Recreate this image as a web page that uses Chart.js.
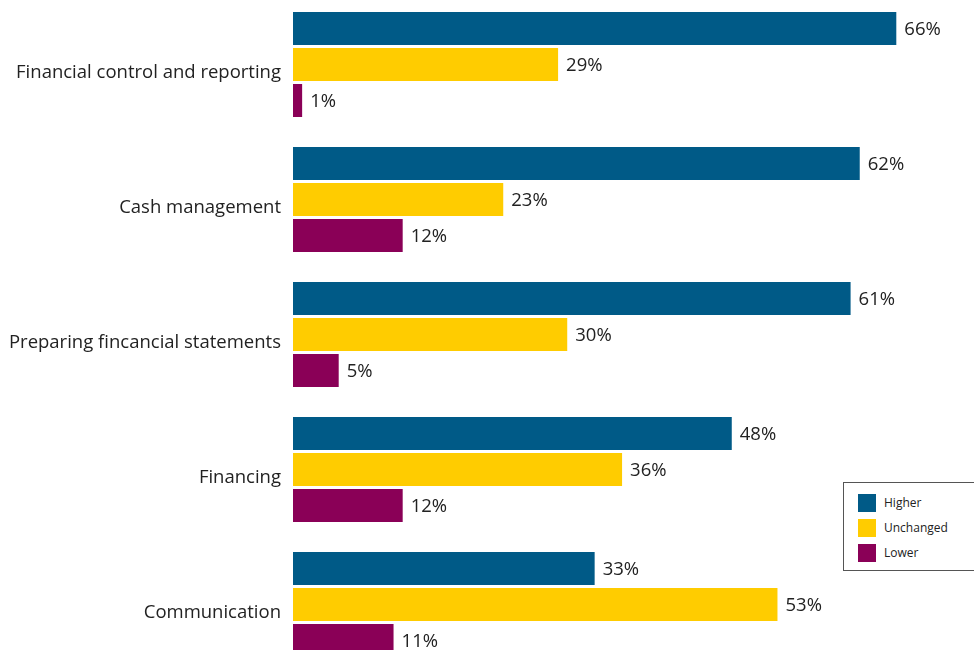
<!DOCTYPE html>
<html>
<head>
<meta charset="utf-8">
<script src="https://cdn.jsdelivr.net/npm/chart.js@4.4.1/dist/chart.umd.min.js"></script>
<style>
  html, body { margin: 0; padding: 0; background: #fff; overflow: hidden; }
  body { width: 974px; height: 650px; position: relative; font-family: "Open Sans", sans-serif; }
  #wrap { position: absolute; left: 0; top: -3px; width: 974px; height: 675px; }
  #legend {
    position: absolute; left: 843px; top: 482px; width: 140px; height: 89px;
    border: 1px solid #555; box-sizing: border-box; background: #fff;
  }
  #legend .item { position: absolute; left: 14px; height: 18px; font-size: 12px; color: #222; line-height: 18px; white-space: nowrap; }
  #legend .sw { display: inline-block; width: 18px; height: 18px; vertical-align: top; margin-right: 8px; }
</style>
</head>
<body>
<div id="wrap"><canvas id="chart"></canvas></div>
<div id="legend"></div>
<script>
// Datos
const categories = [
  'Financial control and reporting',
  'Cash management',
  'Preparing fincancial statements',
  'Financing',
  'Communication'
];
const seriesNames = ['Higher', 'Unchanged', 'Lower'];
const higher    = [66, 62, 61, 48, 33];
const unchanged = [29, 23, 30, 36, 53];
const lower     = [1, 12, 5, 12, 11];
const colors    = ['#005a87', '#ffcc00', '#8a0057'];

// Etiquetas de valor al final de cada barra
const valueLabels = {
  id: 'valueLabels',
  afterDatasetsDraw(chart) {
    const ctx = chart.ctx;
    ctx.save();
    ctx.font = '18.5px "Open Sans", sans-serif';
    ctx.fillStyle = '#222';
    ctx.textBaseline = 'middle';
    ctx.textAlign = 'left';
    chart.data.datasets.forEach((ds, i) => {
      chart.getDatasetMeta(i).data.forEach((bar, j) => {
        ctx.fillText(ds.data[j] + '%', bar.x + 8, bar.y + 1);
      });
    });
    ctx.restore();
  }
};

new Chart(document.getElementById('chart'), {
  type: 'bar',
  data: {
    labels: categories,
    datasets: [
      { label: seriesNames[0], data: higher,    backgroundColor: colors[0] },
      { label: seriesNames[1], data: unchanged, backgroundColor: colors[1] },
      { label: seriesNames[2], data: lower,     backgroundColor: colors[2] }
    ]
  },
  options: {
    indexAxis: 'y',
    responsive: true,
    maintainAspectRatio: false,
    animation: false,
    categoryPercentage: 0.8,
    barPercentage: 33 / 36,
    layout: { padding: 0 },
    plugins: {
      legend: { display: false },
      tooltip: { enabled: false }
    },
    scales: {
      x: {
        display: false,
        min: 0,
        max: 74.5
      },
      y: {
        border: { display: false },
        grid: { display: false, drawTicks: false },
        ticks: {
          color: '#222',
          font: { family: '"Open Sans", sans-serif', size: 18.5 },
          padding: 12,
          labelOffset: 8
        },
        afterFit: scale => {
          scale.width = 293;
          scale.paddingTop = 0;
          scale.paddingBottom = 0;
        }
      }
    }
  },
  plugins: [valueLabels]
});

// Leyenda
const legend = document.getElementById('legend');
seriesNames.forEach((name, i) => {
  const item = document.createElement('div');
  item.className = 'item';
  item.style.top = (11 + i * 25) + 'px';
  item.innerHTML = `<span class="sw" style="background:${colors[i]}"></span>${name}`;
  legend.appendChild(item);
});
</script>
</body>
</html>
